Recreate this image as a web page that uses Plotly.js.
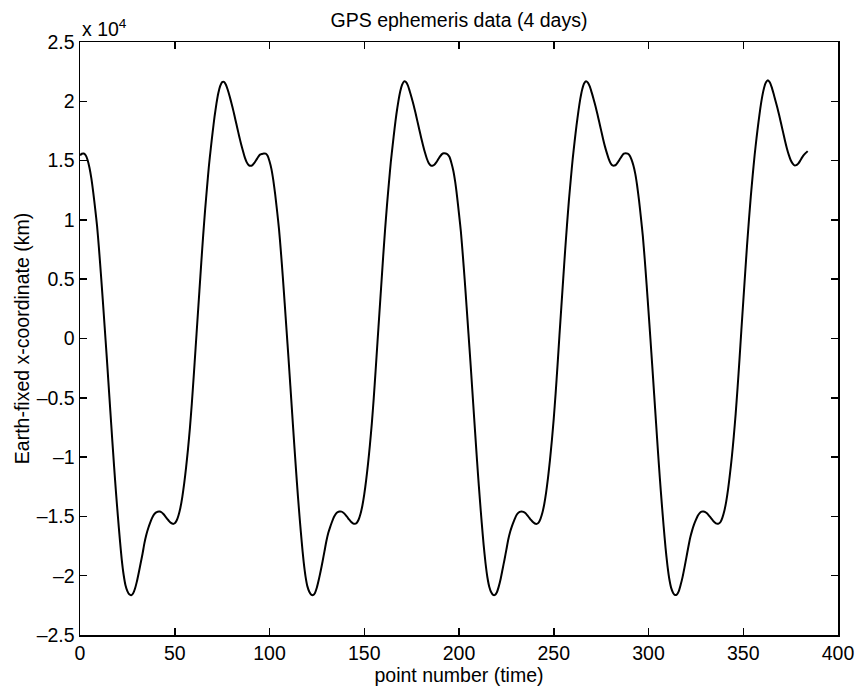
<!DOCTYPE html>
<html>
<head>
<meta charset="utf-8">
<script src="https://cdn.plot.ly/plotly-3.0.1.min.js"></script>
<style>html,body{margin:0;padding:0;background:#fff;}#chart{width:856px;height:686px;}</style>
</head>
<body>
<div id="chart"></div>
<script>
// Earth-fixed x-coordinate (km), one array per day (15-minute samples)
const day1 = [15450,15580,15600,15450,15050,14400,13500,12300,10950,9500,
  7600,5500,3300,1000,-1300,-3700,-6100,-8500,-10800,-13000,
  -15000,-16900,-18600,-19900,-20800,-21300,-21570,-21640,-21500,-21100,
  -20500,-19750,-18950,-18150,-17250,-16550,-16000,-15550,-15150,-14850,
  -14680,-14600,-14590,-14650,-14800,-15000,-15200,-15400,-15550,-15630,
  -15580,-15350,-14900,-14250,-13350,-12200,-10850,-9300,-7550,-5500,
  -3200,-800,1600,4000,6400,8700,10800,12700,14500,16000,
  17400,18700,19800,20700,21300,21620,21640,21400,20950,20400,
  19800,19150,18450,17750,17050,16400,15800,15250,14850,14620,
  14560,14620,14800,15050,15300,15500];
const day2 = [15560,15600,15580,15400,14950,14300,13350,12150,10750,9250,
  7350,5250,3000,700,-1600,-4000,-6400,-8800,-11100,-13300,
  -15300,-17150,-18800,-20050,-20900,-21350,-21600,-21630,-21450,-21000,
  -20350,-19600,-18800,-17950,-17100,-16400,-15900,-15450,-15050,-14780,
  -14640,-14590,-14600,-14690,-14850,-15050,-15260,-15450,-15580,-15630,
  -15550,-15280,-14800,-14100,-13150,-11950,-10550,-8950,-7150,-5050,
  -2700,-250,2150,4550,6950,9200,11250,13100,14850,16300,
  17700,18950,20000,20850,21400,21680,21620,21350,20850,20300,
  19700,19050,18350,17650,16950,16300,15700,15180,14800,14600,
  14570,14650,14850,15100,15350,15550];
const day3 = [15620,15600,15520,15300,14800,14150,13200,11950,10500,9000,
  7050,4950,2700,400,-1900,-4300,-6700,-9100,-11400,-13550,
  -15550,-17400,-18950,-20150,-20950,-21400,-21620,-21620,-21400,-20900,
  -20250,-19450,-18650,-17800,-16950,-16300,-15800,-15380,-15000,-14750,
  -14620,-14590,-14620,-14720,-14900,-15100,-15300,-15480,-15600,-15630,
  -15520,-15200,-14700,-13950,-12950,-11700,-10250,-8600,-6750,-4600,
  -2250,250,2650,5050,7400,9600,11650,13450,15150,16600,
  17950,19150,20200,21000,21500,21700,21580,21250,20750,20200,
  19600,18950,18250,17550,16850,16200,15650,15150,14780,14590,
  14580,14680,14900,15150,15400,15580];
const day4 = [15620,15580,15450,15100,14600,13900,12900,11650,10200,8650,
  6700,4550,2300,0,-2350,-4750,-7150,-9550,-11800,-13900,
  -15850,-17650,-19150,-20300,-21050,-21450,-21630,-21580,-21300,-20750,
  -20100,-19300,-18450,-17600,-16800,-16200,-15700,-15300,-14950,-14720,
  -14600,-14590,-14640,-14760,-14950,-15150,-15350,-15510,-15610,-15610,
  -15470,-15100,-14550,-13750,-12700,-11400,-9950,-8250,-6350,-4150,
  -1800,700,3100,5500,7850,10000,12000,13800,15450,16900,
  18200,19400,20400,21150,21600,21780,21600,21200,20650,20050,
  19450,18800,18100,17400,16700,16050,15500,15050,14770,14600,
  14620,14750,14980,15250,15480,15650,15800];
const yTickVals = [-25000,-20000,-15000,-10000,-5000,0,5000,10000,15000,20000,25000];
const yTickText = ['\u20132.5','\u20132','\u20131.5','\u20131','\u20130.5','0','0.5','1','1.5','2','2.5'];
const xTickVals = [0,50,100,150,200,250,300,350,400];

const xCoord = day1.concat(day2, day3, day4);
const pointNumber = xCoord.map((_, i) => i);

const FONT = 'Liberation Sans, Arial, Helvetica, sans-serif';
const FS = 19.5;

const trace = {
  x: pointNumber,
  y: xCoord,
  type: 'scatter',
  mode: 'lines',
  line: {color: '#000', width: 2, shape: 'spline', smoothing: 0.6},
  hoverinfo: 'skip'
};

const axisCommon = {
  showgrid: false,
  zeroline: false,
  showline: true,
  linecolor: '#000',
  linewidth: 1.5,
  mirror: 'ticks',
  ticks: 'inside',
  ticklen: 7,
  tickwidth: 1.5,
  tickcolor: '#000',
  tickfont: {family: FONT, size: FS, color: '#000'}
};

const layout = {
  width: 856,
  height: 686,
  margin: {l: 80, r: 18, t: 42, b: 51, pad: 0},
  paper_bgcolor: '#fff',
  plot_bgcolor: '#fff',
  showlegend: false,
  font: {family: FONT, size: FS, color: '#000'},
  title: {
    text: 'GPS ephemeris data (4 days)',
    font: {family: FONT, size: FS, color: '#000'},
    x: 0.5, xref: 'paper', xanchor: 'center',
    y: 0.971, yref: 'container', yanchor: 'middle'
  },
  xaxis: Object.assign({}, axisCommon, {
    range: [0, 400],
    tickmode: 'array',
    tickvals: xTickVals,
    title: {text: 'point number (time)', font: {family: FONT, size: FS, color: '#000'}, standoff: 0}
  }),
  yaxis: Object.assign({}, axisCommon, {
    range: [-25000, 25000],
    tickmode: 'array',
    tickvals: yTickVals,
    ticktext: yTickText,
    title: {text: 'Earth-fixed x-coordinate (km)', font: {family: FONT, size: FS, color: '#000'}, standoff: 2}
  }),
  annotations: [{
    text: 'x 10<sup>4</sup>',
    xref: 'paper', yref: 'paper',
    x: 0, y: 1, xanchor: 'left', yanchor: 'bottom',
    showarrow: false,
    font: {family: FONT, size: FS, color: '#000'}
  }]
};

Plotly.newPlot('chart', [trace], layout, {displayModeBar: false, staticPlot: true});
</script>
</body>
</html>
